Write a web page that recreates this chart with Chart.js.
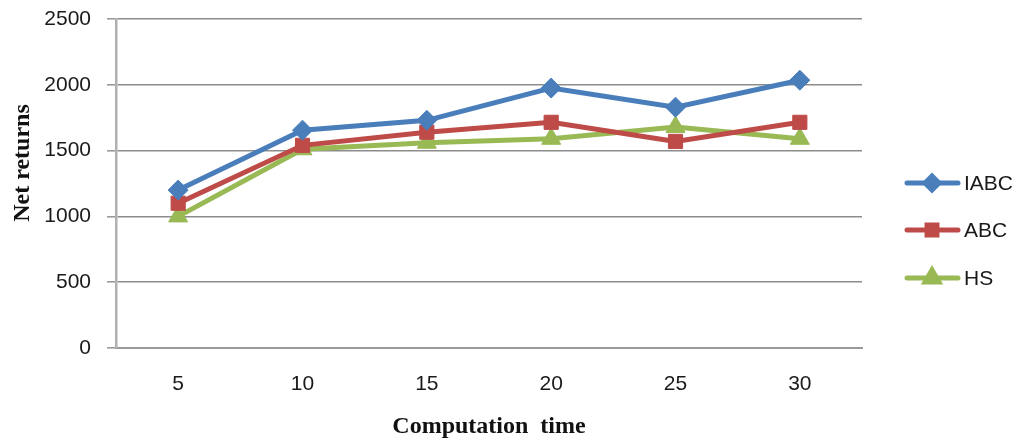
<!DOCTYPE html>
<html>
<head>
<meta charset="utf-8">
<script src="https://cdn.jsdelivr.net/npm/chart.js@4"></script>
<style>
  html, body { margin: 0; padding: 0; background: #fff; }
  #wrap { width: 1017px; height: 439px; }
</style>
</head>
<body>
<div id="wrap"><canvas id="netChart"></canvas></div>
<script>
const times = ["5", "10", "15", "20", "25", "30"];
const iabc = [1200, 1655, 1730, 1975, 1830, 2035];
const abc = [1100, 1540, 1640, 1715, 1570, 1715];
const hs = [1000, 1510, 1560, 1590, 1680, 1590];
const yTicks = [0, 500, 1000, 1500, 2000, 2500];

const sansFont = "'Liberation Sans', Arial, sans-serif";
const serifFont = "'Liberation Serif', 'Times New Roman', serif";

// legend drawn as line + marker, like the office chart
const sideLegend = {
  id: "sideLegend",
  afterDraw(chart) {
    const ctx = chart.ctx;
    const rows = [183, 230, 278];
    chart.data.datasets.forEach((ds, i) => {
      const y = rows[i];
      ctx.save();
      ctx.strokeStyle = ds.borderColor;
      ctx.lineWidth = 5;
      ctx.lineCap = "round";
      ctx.beginPath();
      ctx.moveTo(907, y);
      ctx.lineTo(958, y);
      ctx.stroke();
      Chart.helpers.drawPoint(ctx, {
        pointStyle: ds.pointStyle,
        radius: ds.pointRadius - 3,
        borderWidth: 1
      }, 932, y);
      ctx.fillStyle = ds.borderColor;
      ctx.fill();
      ctx.fillStyle = "#1a1a1a";
      ctx.font = "21px " + sansFont;
      ctx.textBaseline = "middle";
      ctx.textAlign = "left";
      ctx.fillText(ds.label, 964, y + 1);
      ctx.restore();
    });

    // y axis title
    ctx.save();
    ctx.translate(23, 163);
    ctx.rotate(-Math.PI / 2);
    ctx.font = "bold 24px " + serifFont;
    ctx.fillStyle = "#111";
    ctx.textAlign = "center";
    ctx.textBaseline = "middle";
    ctx.fillText("Net returns", 0, 0);
    ctx.restore();
  }
};

function makeSet(label, data, color, style, r) {
  return {
    label: label,
    data: data,
    borderColor: color,
    backgroundColor: color,
    borderWidth: 5,
    pointStyle: style,
    pointRadius: r,
    pointHoverRadius: r,
    pointBorderWidth: 1,
    pointBackgroundColor: color,
    tension: 0
  };
}

new Chart(document.getElementById("netChart"), {
  type: "line",
  data: {
    labels: times,
    datasets: [
      makeSet("IABC", iabc, "#4a7ebb", "rectRot", 10),
      makeSet("ABC", abc, "#be4b48", "rect", 10),
      makeSet("HS", hs, "#98b954", "triangle", 11)
    ]
  },
  options: {
    responsive: true,
    maintainAspectRatio: false,
    animation: false,
    layout: { padding: { top: 19, right: 155, left: 0, bottom: 0 } },
    plugins: {
      legend: { display: false },
      tooltip: { enabled: false }
    },
    scales: {
      x: {
        offset: true,
        grid: { display: false },
        border: { display: true, color: "#9a9a9a", width: 2 },
        ticks: {
          color: "#1a1a1a",
          font: { family: sansFont, size: 21 },
          padding: 16
        },
        title: {
          display: true,
          text: "Computation  time",
          color: "#111",
          font: { family: serifFont, size: 24, weight: "bold", lineHeight: 1.0 },
          padding: { top: 16, bottom: 0 }
        },
        afterFit(scale) {
          scale.height = 91;
          scale.paddingLeft = 0;
          scale.paddingRight = 0;
        }
      },
      y: {
        min: 0,
        max: 2500,
        afterBuildTicks(scale) {
          scale.ticks = yTicks.map(v => ({ value: v }));
        },
        grid: {
          color: "#8c8c8c",
          lineWidth: 1.6,
          tickLength: 9,
          tickColor: "#9a9a9a"
        },
        border: { display: true, color: "#b0b0b0", width: 2.5 },
        ticks: {
          color: "#1a1a1a",
          font: { family: sansFont, size: 21 },
          padding: 16,
          callback: v => String(v)
        },
        afterFit(scale) {
          scale.width = 116;
          scale.paddingTop = 0;
          scale.paddingBottom = 0;
        }
      }
    }
  },
  plugins: [sideLegend]
});
</script>
</body>
</html>
